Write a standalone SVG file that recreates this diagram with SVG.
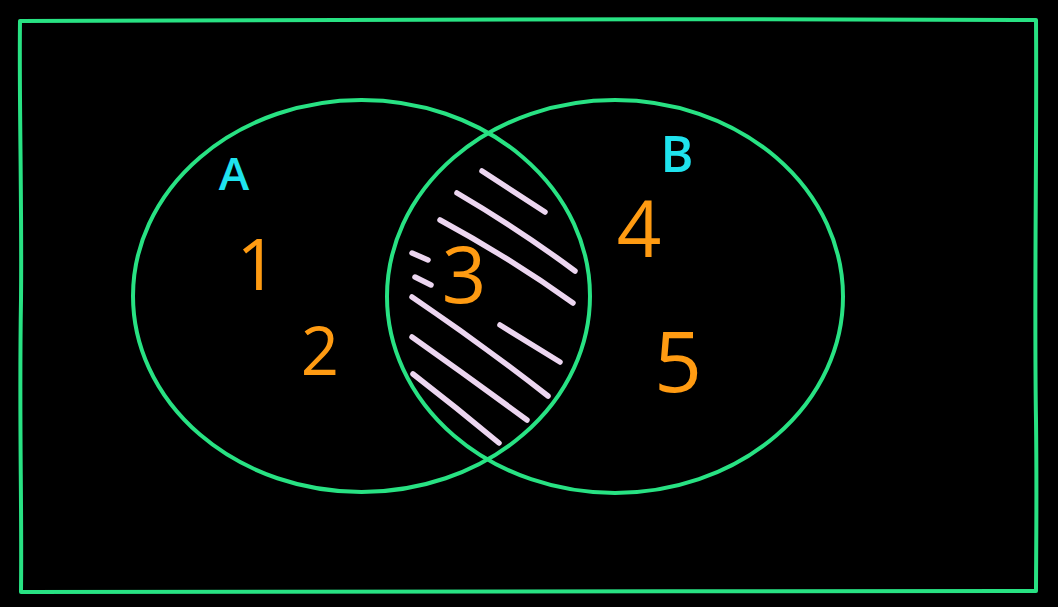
<svg xmlns="http://www.w3.org/2000/svg" width="1058" height="607" viewBox="0 0 1058 607">
<style>
.frame{fill:none;stroke:#28e283;stroke-width:4;stroke-linecap:round;stroke-linejoin:round}
.set{fill:none;stroke:#28e283;stroke-width:4}
.hatch{fill:none;stroke:#ecd6f0;stroke-width:5.5;stroke-linecap:round}
.lbl{font-family:"Open Sans","DejaVu Sans",sans-serif;font-weight:600;fill:#1fe3ee;text-anchor:middle}
.num{font-family:"Open Sans","DejaVu Sans",sans-serif;font-weight:400;fill:#ff9b12;text-anchor:middle}
</style>
<rect x="0" y="0" width="1058" height="607" fill="#000"/>
<g id="universe">
<path class="frame" d="M20,21 C300,20 700,18 1036,20 C1037,150 1034,300 1036,420 C1037,500 1036,560 1036,591 C700,592 300,590 21,592 C22,500 19,420 21,300 C22,200 19,100 20,21 Z"/>
</g>
<g id="hatching">
<path class="hatch" d="M482,171 L545,212"/>
<path class="hatch" d="M457,193 Q520,230 575,271"/>
<path class="hatch" d="M440,220 Q510,258 573,303"/>
<path class="hatch" d="M412,253 L428,260"/>
<path class="hatch" d="M415,277 L431,285"/>
<path class="hatch" d="M412,297 Q480,343 548,396"/>
<path class="hatch" d="M500,325 L560,362"/>
<path class="hatch" d="M412,337 Q470,378 527,420"/>
<path class="hatch" d="M413,374 Q457,408 499,443"/>
</g>
<g id="setA">
<ellipse class="set" cx="361.5" cy="296" rx="228.5" ry="196"/>
<text class="lbl" x="234" y="190" font-size="46">A</text>
</g>
<g id="setB">
<ellipse class="set" cx="615" cy="296.5" rx="228" ry="196.5"/>
<text class="lbl" x="677" y="172" font-size="50">B</text>
</g>
<g id="elements">
<text class="num" x="257" y="290" font-size="72">1</text>
<text class="num" x="320" y="375" font-size="67">2</text>
<text class="num" x="464" y="303" font-size="78">3</text>
<text class="num" x="639" y="257" font-size="78">4</text>
<text class="num" x="678" y="392" font-size="84">5</text>
</g>
</svg>
